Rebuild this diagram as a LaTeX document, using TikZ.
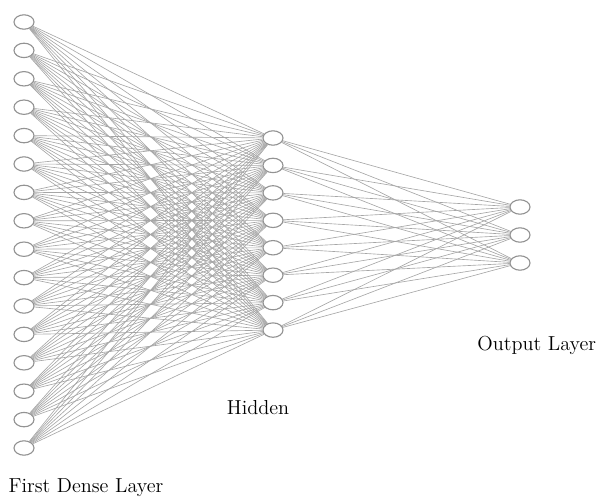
\documentclass[tikz,border=0pt]{standalone}
\usepackage{tikz}
\usetikzlibrary{shapes.geometric}

\begin{document}
\begin{tikzpicture}[font=\Large,line cap=round,
  neuron/.style={ellipse,draw=gray!85,line width=0.8pt,fill=white,minimum width=0.5cm,minimum height=0.36cm,inner sep=0pt},
  link/.style={gray!70,line width=0.45pt}]
\useasboundingbox (0,0) rectangle (14.95,12.5);
% layers
\foreach \i in {1,...,16}
  \node[neuron] (in\i) at (0.6,{11.95-(\i-1)*0.71}) {};
\foreach \j in {1,...,8}
  \node[neuron] (hid\j) at (6.825,{9.05-(\j-1)*0.686}) {};
\foreach \k in {1,2,3}
  \node[neuron] (out\k) at (13.0,{7.325-(\k-1)*0.7}) {};
% connections
\foreach \i in {1,...,16}
  \foreach \j in {1,...,8}
    \draw[link] (in\i) -- (hid\j);
\foreach \j in {1,...,8}
  \foreach \k in {1,2,3}
    \draw[link] (hid\j) -- (out\k);
% labels
\node (inlabel) at (2.15,0.3) {First Dense Layer};
\node (hidlabel) at (6.45,2.3) {Hidden};
\node (outlabel) at (13.42,3.87) {Output Layer};
\end{tikzpicture}
\end{document}
